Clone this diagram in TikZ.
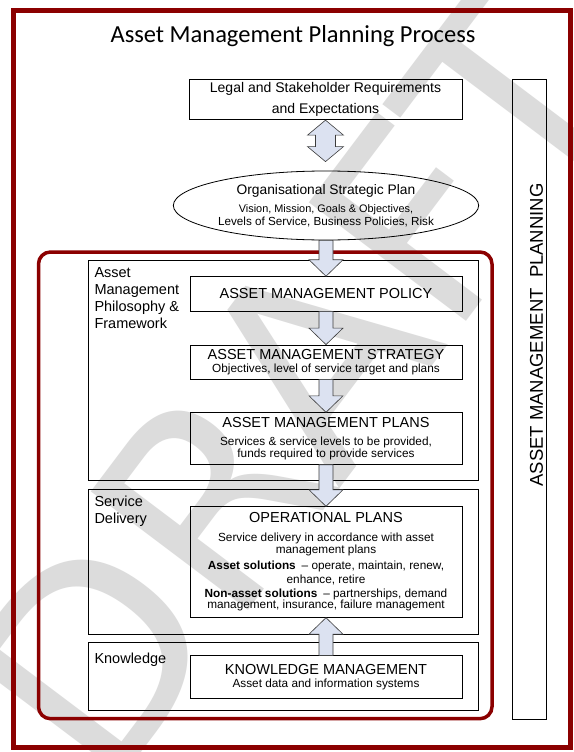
\documentclass[tikz,border=0pt]{standalone}
\usepackage{fontspec}
\setmainfont{Liberation Sans}
\newfontfamily\titlefont{Carlito}
\newfontfamily\draftfont{DejaVu Sans}
\usepackage{tikz}
\usetikzlibrary{shapes.geometric, calc}
\definecolor{borderred}{RGB}{139,0,0}
\definecolor{arrowfill}{RGB}{220,226,241}
\definecolor{arrowline}{RGB}{60,60,60}
\definecolor{draftgray}{RGB}{220,220,220}
\tikzstyle{stepbox} = [rectangle, draw=black, line width=0.8pt, minimum width=272pt, inner sep=1pt, align=center]
\tikzstyle{stagebox} = [rectangle, draw=black, line width=0.8pt, minimum width=390pt]
\tikzstyle{stagelabel} = [anchor=north west, align=left, inner sep=0pt, font=\fontsize{14.5}{17.2}\selectfont]
\tikzstyle{blockarrow} = [draw=arrowline, fill=arrowfill, line width=0.6pt, line join=miter]
\newcommand{\heading}[1]{{\fontsize{14.5}{16}\selectfont #1}}
\newcommand{\blockarrow}[2]{%
  \draw [blockarrow] let \p1=(#1), \p2=(#2), \n1={ifthenelse(\y1>\y2,1,-1)} in
    (\x2-7pt,\y1) -- (\x2-7pt,\y2+\n1*16.5pt) -- (\x2-17pt,\y2+\n1*16.5pt) -- (\x2,\y2)
    -- (\x2+17pt,\y2+\n1*16.5pt) -- (\x2+7pt,\y2+\n1*16.5pt) -- (\x2+7pt,\y1) -- cycle;}

\begin{document}
\begin{tikzpicture}[x=1pt, y=-1pt]
    \useasboundingbox (0,0) rectangle (573,752);
    \fill [white] (0,0) rectangle (573,752);
    \begin{scope}
    \clip (0,0) rectangle (573,752);
    \node (draft) [rotate=53, text=draftgray, font=\draftfont\fontsize{270}{270}\selectfont] at (295,385) {DRAFT};
    \end{scope}
    \draw [borderred, line width=5pt] (13.5,10.8) rectangle (570.5,747.5);
    \draw [borderred, line width=3.5pt, rounded corners=12pt] (38.5,252) rectangle (492,718.7);

    \node (title) [font=\titlefont\fontsize{24.5}{27}\selectfont] at (293,36.5) {Asset Management Planning Process};
    \node (legal) [stepbox, minimum width=273pt, minimum height=40.5pt, font=\fontsize{14}{20.8}\selectfont] at (325.5,99.5) {Legal and Stakeholder Requirements\\and Expectations};
    \node (osp) [ellipse, draw=black, line width=0.8pt, minimum width=272pt, minimum height=69pt, inner sep=0pt, align=center, font=\fontsize{10.9}{12.4}\selectfont] at (326,205.5) {{\fontsize{13.8}{15}\selectfont Organisational Strategic Plan}\\[6pt]Vision, Mission, Goals \& Objectives,\\{\fontsize{11.7}{12.4}\selectfont Levels of Service, Business Policies, Risk}};

    \node (framework) [stagebox, minimum height=220.7pt] at (283.3,370.3) {};
    \node (delivery) [stagebox, minimum height=145pt] at (283.3,561.8) {};
    \node (knowledge) [stagebox, minimum height=68pt] at (283.3,676.7) {};
    \node (frameworklabel) [stagelabel] at (94.3,267) {Asset\\Management\\Philosophy \&\\Framework};
    \node (deliverylabel) [stagelabel] at (94.3,495.8) {Service\\Delivery};
    \node (knowledgelabel) [stagelabel] at (94.3,652.5) {Knowledge};

    \node (policy) [stepbox, minimum height=34.3pt] at (326,293.8) {\heading{ASSET MANAGEMENT POLICY}};
    \node (strategy) [stepbox, minimum height=34pt, font=\fontsize{11.8}{13.6}\selectfont] at (326,362) {\heading{ASSET MANAGEMENT STRATEGY}\\Objectives, level of service target and plans};
    \node (plans) [stepbox, minimum height=51.6pt, font=\fontsize{11.8}{11.4}\selectfont] at (326,438.5) {\heading{ASSET MANAGEMENT PLANS}\\[7pt]Services \& service levels to be provided,\\funds required to provide services};
    \node (operations) [stepbox, minimum height=110.6pt, font=\fontsize{11.8}{12.7}\selectfont] at (326,562) {\heading{OPERATIONAL PLANS}\\[5.5pt]Service delivery in accordance with asset\\management plans\\[2.6pt]\textbf{Asset solutions}\enspace– operate, maintain, renew,\\[2pt]enhance, retire\\[1.3pt]\textbf{Non-asset solutions}\enspace– partnerships, demand\\[-1.7pt]management, insurance, failure management};
    \node (knowledgemgmt) [stepbox, minimum height=42.6pt, font=\fontsize{11.8}{13.6}\selectfont] at (326,677) {\heading{KNOWLEDGE MANAGEMENT}\\Asset data and information systems};

    \node (planning) [rectangle, draw=black, line width=0.8pt, minimum width=34pt, minimum height=640pt] at (529.7,399.1) {};
    \node (planninglabel) [rotate=90, font=\fontsize{18.5}{20}\selectfont] at (536.5,335) {ASSET MANAGEMENT~ PLANNING};

    \draw [blockarrow] let \p1=(legal.south), \p2=($(osp.north)+(0,-9)$) in
      (\x1,\y1) -- (\x1+18pt,\y1-15pt) -- (\x1+10pt,\y1-15pt) -- (\x1+10pt,\y2+15pt) -- (\x1+18pt,\y2+15pt)
      -- (\x1,\y2) -- (\x1-18pt,\y2+15pt) -- (\x1-10pt,\y2+15pt) -- (\x1-10pt,\y1-15pt) -- (\x1-18pt,\y1-15pt) -- cycle;
    \blockarrow{osp.south}{policy.north}
    \blockarrow{policy.south}{strategy.north}
    \blockarrow{strategy.south}{plans.north}
    \blockarrow{plans.south}{operations.north}
    \blockarrow{knowledgemgmt.north}{operations.south}
\end{tikzpicture}
\end{document}
